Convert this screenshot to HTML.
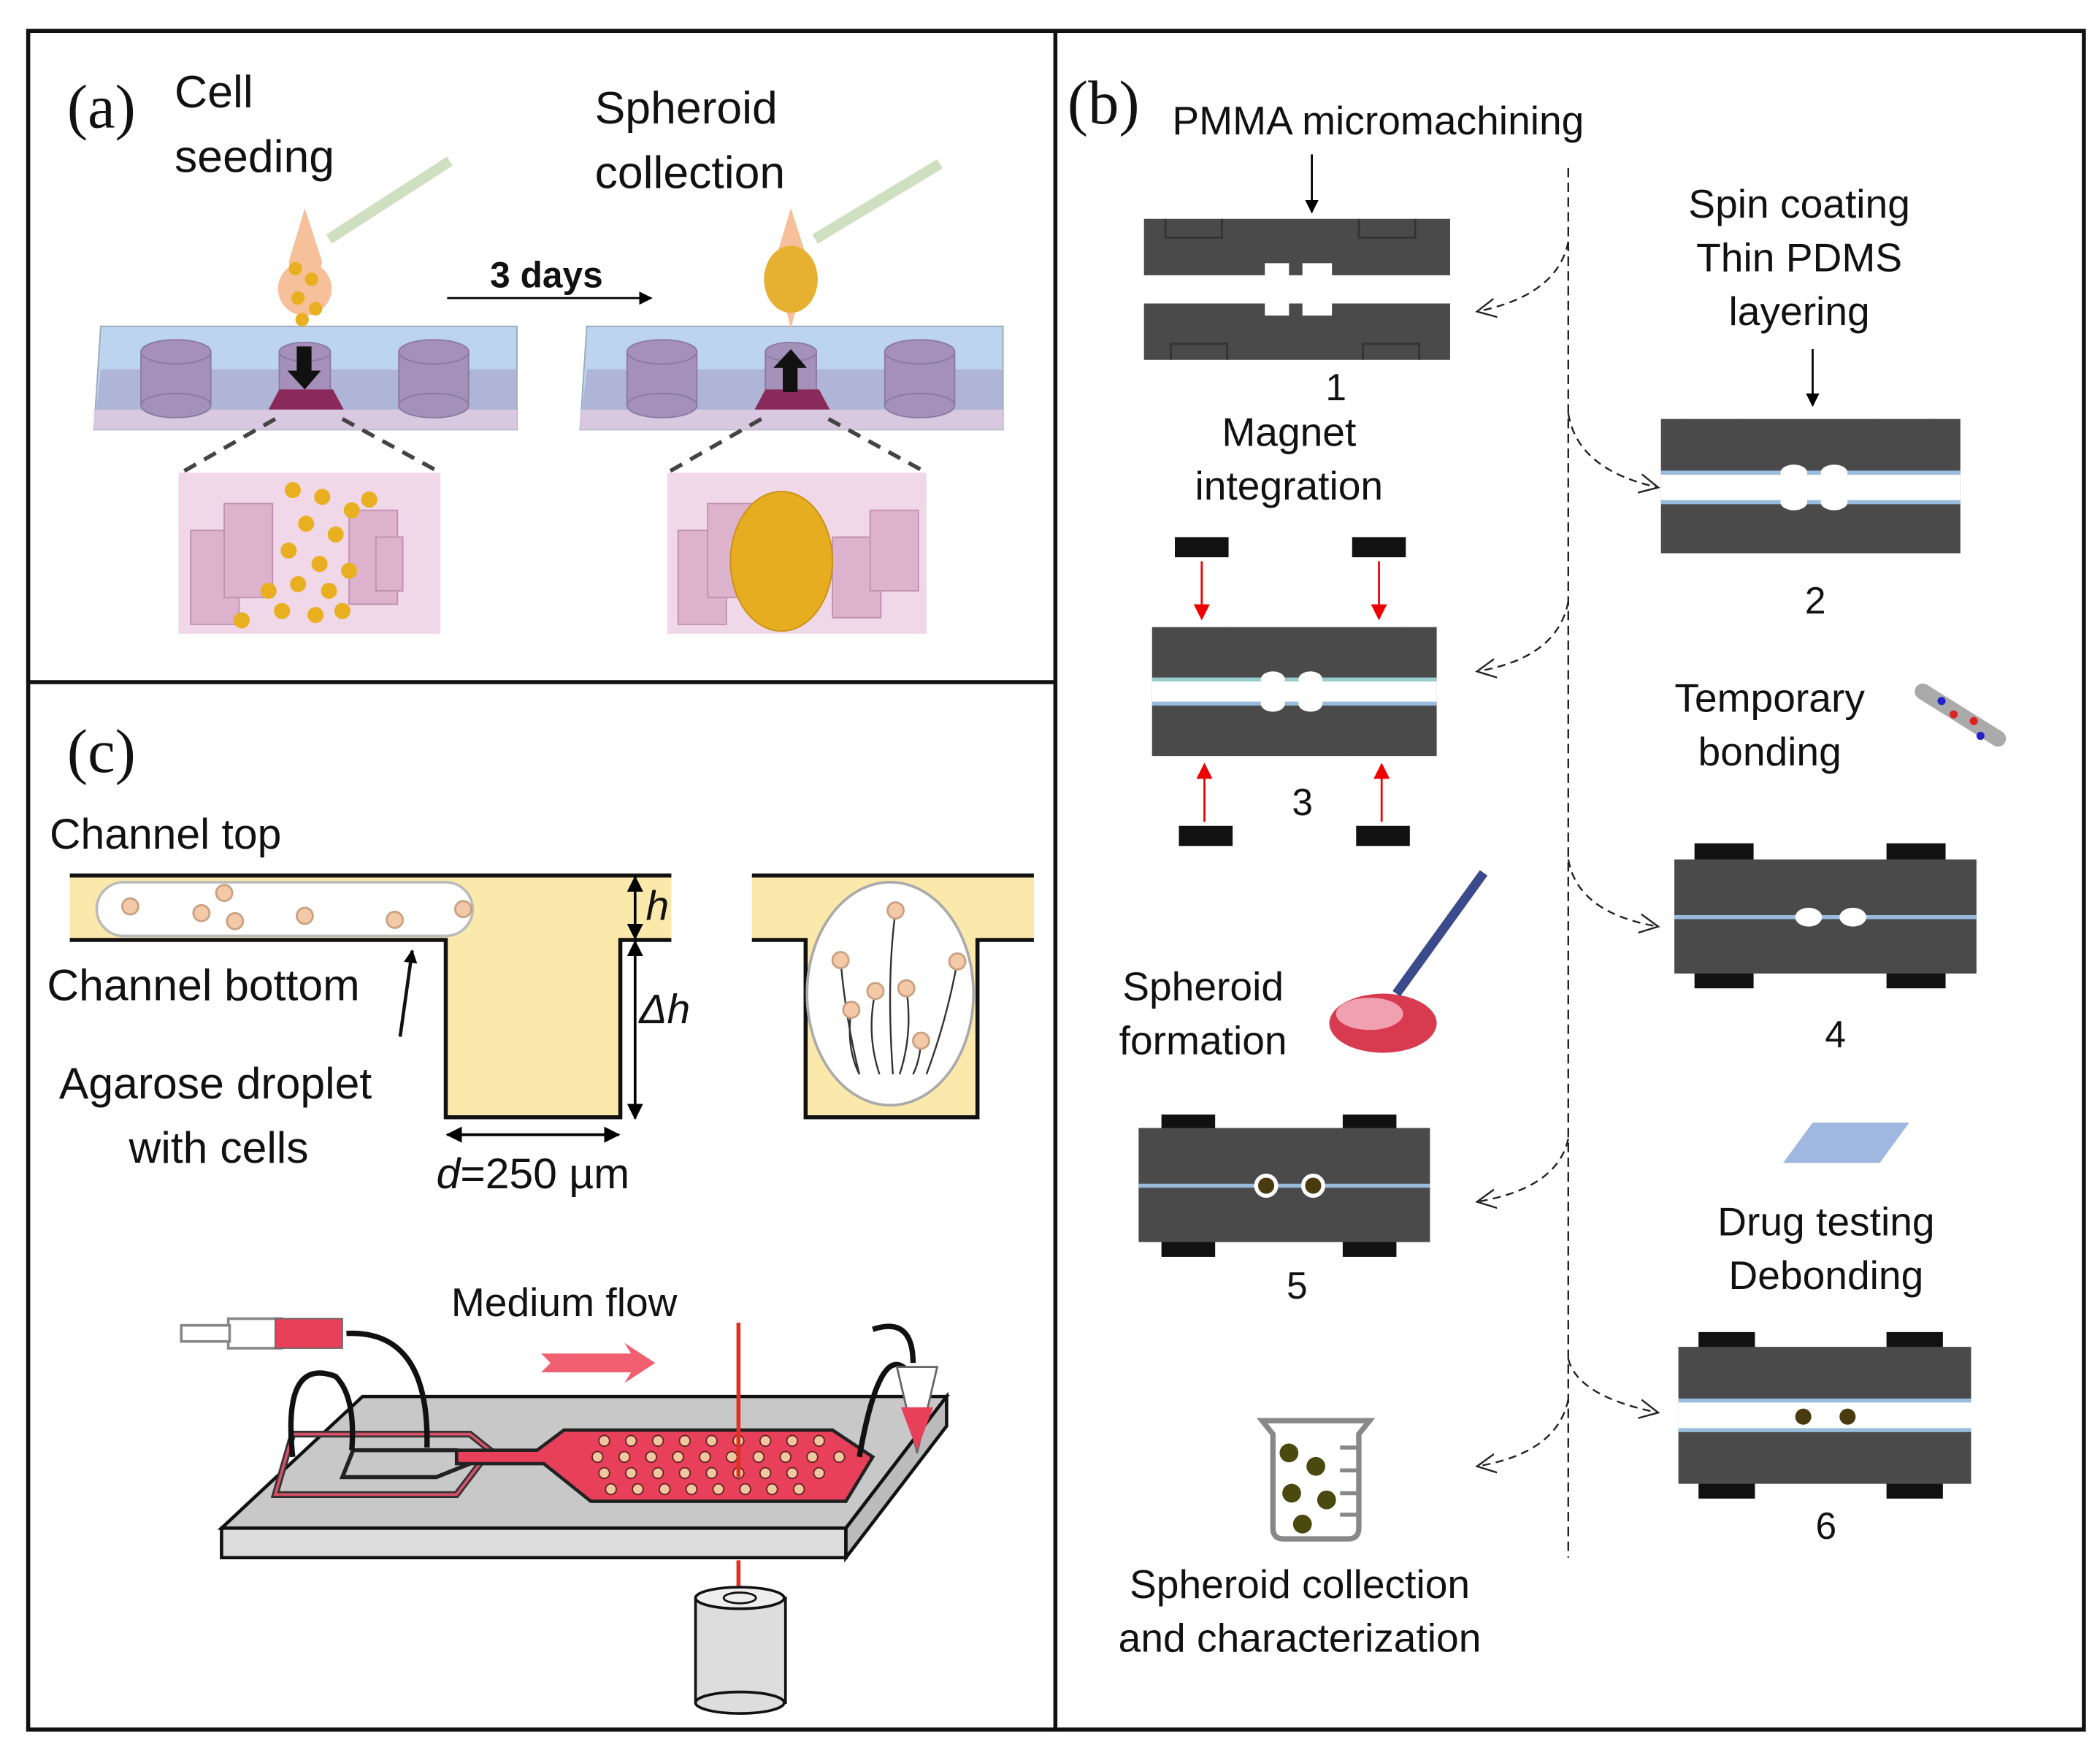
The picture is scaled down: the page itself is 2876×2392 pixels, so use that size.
<!DOCTYPE html>
<html><head><meta charset="utf-8"><style>
html,body{margin:0;padding:0;background:#fff}
svg{display:block}
text{font-family:"Liberation Sans",sans-serif;fill:#111}
.s{font-family:"Liberation Serif",serif}
</style></head><body>
<svg width="2876" height="2392" viewBox="0 0 1564 1301" preserveAspectRatio="none" xmlns="http://www.w3.org/2000/svg">
<defs>
<marker id="ah" markerWidth="10" markerHeight="10" refX="9" refY="5" orient="auto" markerUnits="userSpaceOnUse"><path d="M0,0 L10,5 L0,10 z" fill="#000"/></marker>
<marker id="ahr" markerWidth="12" markerHeight="12" refX="10" refY="6" orient="auto" markerUnits="userSpaceOnUse"><path d="M0,0 L12,6 L0,12 z" fill="#e00"/></marker>
<marker id="oa" markerWidth="16" markerHeight="16" refX="14" refY="8" orient="auto" markerUnits="userSpaceOnUse"><path d="M0,1 L14,8 L0,15" fill="none" stroke="#222" stroke-width="1.3"/></marker>
<marker id="dh" markerWidth="12" markerHeight="12" refX="11" refY="6" orient="auto-start-reverse" markerUnits="userSpaceOnUse"><path d="M0,0 L12,6 L0,12 z" fill="#000"/></marker>
</defs>
<rect width="1564" height="1301" fill="#fff"/>
<rect x="21" y="23" width="1531" height="1265" fill="none" stroke="#111" stroke-width="3"/>
<line x1="786" y1="23" x2="786" y2="1288" stroke="#111" stroke-width="3"/>
<line x1="21" y1="508" x2="786" y2="508" stroke="#111" stroke-width="3"/>

<!-- (a) -->
<text x="50" y="95" class="s" font-size="46">(a)</text>
<text x="130" y="80" font-size="34">Cell</text>
<text x="130" y="128" font-size="34">seeding</text>
<text x="443" y="92" font-size="34">Spheroid</text>
<text x="443" y="140" font-size="34">collection</text>
<text x="365" y="214" font-size="27" font-weight="bold">3 days</text>
<line x1="333" y1="222" x2="485" y2="222" stroke="#000" stroke-width="1.5" marker-end="url(#ah)"/>
<g id="chipA">
<polygon points="75,243 385,243 385,320 70,320" fill="#bcd4ee" stroke="#9ab" stroke-width="1"/>
<polygon points="75,275 385,275 385,320 70,320" fill="#a9a8cc" opacity=".7"/>
<rect x="70" y="305" width="315" height="15" fill="#d8c8e0"/>
<g fill="#a490b8" stroke="#8a7aa0" stroke-width="1">
<rect x="105" y="262" width="52" height="40"/><ellipse cx="131" cy="262" rx="26" ry="9"/><ellipse cx="131" cy="302" rx="26" ry="9"/>
<rect x="297" y="262" width="52" height="40"/><ellipse cx="323" cy="262" rx="26" ry="9"/><ellipse cx="323" cy="302" rx="26" ry="9"/>
<rect x="208" y="262" width="38" height="40"/><ellipse cx="227" cy="262" rx="19" ry="7"/>
</g>
<polygon points="208,290 248,290 256,305 200,305" fill="#8a2a5a"/>
</g>
<polygon points="227,155 215,195 227,245 240,195" fill="#f6c09a"/>
<circle cx="227" cy="215" r="20" fill="#f6c09a"/>
<g fill="#e8b020"><circle cx="220" cy="200" r="5"/><circle cx="232" cy="208" r="5"/><circle cx="222" cy="222" r="5"/><circle cx="235" cy="230" r="5"/><circle cx="225" cy="238" r="5"/></g>
<line x1="245" y1="178" x2="335" y2="120" stroke="#cfe0c0" stroke-width="8"/>
<rect x="221" y="258" width="11" height="20" fill="#111"/><polygon points="214,276 239,276 227,290" fill="#111"/>
<use href="#chipA" x="362"/>
<polygon points="589,155 577,195 589,245 602,195" fill="#f6c09a"/>
<ellipse cx="589" cy="208" rx="20" ry="25" fill="#e6b030"/>
<line x1="607" y1="178" x2="700" y2="122" stroke="#cfe0c0" stroke-width="8"/>
<rect x="583" y="272" width="11" height="20" fill="#111"/><polygon points="576,274 601,274 589,260" fill="#111"/>
<g stroke="#444" stroke-width="3" stroke-dasharray="10,7" fill="none">
<line x1="205" y1="312" x2="135" y2="352"/><line x1="255" y1="312" x2="328" y2="352"/>
<line x1="567" y1="312" x2="497" y2="352"/><line x1="617" y1="312" x2="690" y2="352"/>
</g>
<rect x="133" y="352" width="195" height="120" fill="#f0d8e8"/>
<rect x="497" y="352" width="193" height="120" fill="#f0d8e8"/>
<g fill="#dcb2cc" stroke="#c090b0" stroke-width="1">
<rect x="142" y="395" width="36" height="70"/><rect x="167" y="375" width="36" height="70"/><rect x="260" y="380" width="36" height="70"/><rect x="280" y="400" width="20" height="40"/>
<rect x="505" y="395" width="36" height="70"/><rect x="527" y="375" width="36" height="70"/><rect x="620" y="400" width="36" height="60"/><rect x="648" y="380" width="36" height="60"/>
</g>
<g fill="#e8b020">
<circle cx="218" cy="365" r="6"/><circle cx="240" cy="370" r="6"/><circle cx="262" cy="380" r="6"/><circle cx="228" cy="390" r="6"/><circle cx="250" cy="398" r="6"/><circle cx="215" cy="410" r="6"/><circle cx="238" cy="420" r="6"/><circle cx="222" cy="435" r="6"/><circle cx="245" cy="440" r="6"/><circle cx="200" cy="440" r="6"/><circle cx="210" cy="455" r="6"/><circle cx="235" cy="458" r="6"/><circle cx="255" cy="455" r="6"/><circle cx="180" cy="462" r="6"/><circle cx="260" cy="425" r="6"/><circle cx="275" cy="372" r="6"/>
</g>
<ellipse cx="582" cy="418" rx="38" ry="52" fill="#e6ad20" stroke="#c99010"/>

<!-- (b) -->
<text x="795" y="92" class="s" font-size="46">(b)</text>
<text x="873" y="100" font-size="30">PMMA micromachining</text>
<line x1="1168" y1="125" x2="1168" y2="1160" stroke="#222" stroke-width="1.3" stroke-dasharray="7,4"/>
<line x1="977" y1="115" x2="977" y2="158" stroke="#000" stroke-width="1.5" marker-end="url(#ah)"/>
<g fill="#4a4a4a">
<rect x="852" y="163" width="228" height="42"/><rect x="852" y="226" width="228" height="42"/>
</g>
<g fill="#fff"><rect x="942" y="196" width="18" height="10"/><rect x="970" y="196" width="22" height="10"/><rect x="942" y="225" width="18" height="10"/><rect x="970" y="225" width="22" height="10"/></g>
<g fill="none" stroke="#333" stroke-width="1.5">
<path d="M868,163 v14 h42 v-14 M1012,163 v14 h42 v-14 M872,268 v-12 h42 v12 M1015,268 v-12 h42 v12"/>
<path d="M872,467 v14 h42 v-14 M1005,467 v14 h42 v-14 M872,563 v-12 h42 v12 M1005,563 v-12 h42 v12"/>
<path d="M1255,312 v14 h42 v-14 M1395,312 v14 h42 v-14 M1255,412 v-12 h42 v12 M1395,412 v-12 h42 v12"/>
</g>
<text x="995" y="298" font-size="28" text-anchor="middle">1</text>
<text x="960" y="332" font-size="30" text-anchor="middle">Magnet</text>
<text x="960" y="372" font-size="30" text-anchor="middle">integration</text>
<rect x="858" y="467" width="212" height="96" fill="#4a4a4a"/>
<rect x="858" y="506" width="212" height="18" fill="#fff"/>
<line x1="858" y1="506" x2="1070" y2="506" stroke="#9cc" stroke-width="3"/><line x1="858" y1="524" x2="1070" y2="524" stroke="#9bd" stroke-width="3"/>
<g fill="#fff"><ellipse cx="948" cy="506" rx="9" ry="6"/><ellipse cx="976" cy="506" rx="9" ry="6"/><ellipse cx="948" cy="524" rx="9" ry="6"/><ellipse cx="976" cy="524" rx="9" ry="6"/></g>
<g fill="#111"><rect x="875" y="400" width="40" height="15"/><rect x="1007" y="400" width="40" height="15"/><rect x="878" y="615" width="40" height="15"/><rect x="1010" y="615" width="40" height="15"/></g>
<g stroke="#e00" stroke-width="1.5"><line x1="895" y1="418" x2="895" y2="460" marker-end="url(#ahr)"/><line x1="1027" y1="418" x2="1027" y2="460" marker-end="url(#ahr)"/><line x1="897" y1="612" x2="897" y2="570" marker-end="url(#ahr)"/><line x1="1029" y1="612" x2="1029" y2="570" marker-end="url(#ahr)"/></g>
<text x="970" y="607" font-size="28" text-anchor="middle">3</text>

<text x="1340" y="162" font-size="30" text-anchor="middle">Spin coating</text>
<text x="1340" y="202" font-size="30" text-anchor="middle">Thin PDMS</text>
<text x="1340" y="242" font-size="30" text-anchor="middle">layering</text>
<line x1="1350" y1="260" x2="1350" y2="302" stroke="#000" stroke-width="1.5" marker-end="url(#ah)"/>
<rect x="1237" y="312" width="223" height="100" fill="#4a4a4a"/>
<rect x="1237" y="352" width="223" height="22" fill="#fff"/>
<line x1="1237" y1="352" x2="1460" y2="352" stroke="#9bd" stroke-width="3"/><line x1="1237" y1="374" x2="1460" y2="374" stroke="#9bd" stroke-width="3"/>
<g fill="#fff"><ellipse cx="1336" cy="352" rx="10" ry="6"/><ellipse cx="1366" cy="352" rx="10" ry="6"/><ellipse cx="1336" cy="374" rx="10" ry="6"/><ellipse cx="1366" cy="374" rx="10" ry="6"/></g>
<text x="1352" y="457" font-size="28" text-anchor="middle">2</text>
<text x="1318" y="530" font-size="30" text-anchor="middle">Temporary</text>
<text x="1318" y="570" font-size="30" text-anchor="middle">bonding</text>
<line x1="1432" y1="515" x2="1488" y2="550" stroke="#aaa" stroke-width="12" stroke-linecap="round"/>
<circle cx="1446" cy="522" r="3" fill="#22c"/><circle cx="1455" cy="532" r="3" fill="#d22"/><circle cx="1470" cy="537" r="3" fill="#d22"/><circle cx="1475" cy="548" r="3" fill="#22c"/>
<g fill="#111"><rect x="1262" y="628" width="44" height="14"/><rect x="1405" y="628" width="44" height="14"/><rect x="1262" y="722" width="44" height="14"/><rect x="1405" y="722" width="44" height="14"/></g>
<rect x="1247" y="640" width="225" height="85" fill="#4a4a4a"/>
<line x1="1247" y1="683" x2="1472" y2="683" stroke="#9bd" stroke-width="3"/>
<ellipse cx="1347" cy="683" rx="10" ry="7" fill="#fff"/><ellipse cx="1380" cy="683" rx="10" ry="7" fill="#fff"/>
<text x="1367" y="780" font-size="28" text-anchor="middle">4</text>

<text x="896" y="745" font-size="30" text-anchor="middle">Spheroid</text>
<text x="896" y="785" font-size="30" text-anchor="middle">formation</text>
<ellipse cx="1030" cy="762" rx="40" ry="22" fill="#d83a50"/><ellipse cx="1020" cy="755" rx="25" ry="12" fill="#f0a0b0"/>
<line x1="1040" y1="740" x2="1105" y2="650" stroke="#3a4a8a" stroke-width="7"/>
<g fill="#111"><rect x="865" y="830" width="40" height="12"/><rect x="1000" y="830" width="40" height="12"/><rect x="865" y="924" width="40" height="12"/><rect x="1000" y="924" width="40" height="12"/></g>
<rect x="848" y="840" width="217" height="85" fill="#4a4a4a"/>
<line x1="848" y1="883" x2="1065" y2="883" stroke="#9bd" stroke-width="3"/>
<circle cx="943" cy="883" r="9" fill="#fff"/><circle cx="943" cy="883" r="6" fill="#4a3a10"/><circle cx="978" cy="883" r="9" fill="#fff"/><circle cx="978" cy="883" r="6" fill="#4a3a10"/>
<text x="966" y="967" font-size="28" text-anchor="middle">5</text>
<polygon points="1350,836 1422,836 1400,866 1328,866" fill="#a0b8e0"/>
<text x="1360" y="920" font-size="30" text-anchor="middle">Drug testing</text>
<text x="1360" y="960" font-size="30" text-anchor="middle">Debonding</text>
<g fill="#111"><rect x="1265" y="992" width="42" height="14"/><rect x="1405" y="992" width="42" height="14"/><rect x="1265" y="1102" width="42" height="14"/><rect x="1405" y="1102" width="42" height="14"/></g>
<rect x="1250" y="1003" width="218" height="102" fill="#4a4a4a"/>
<rect x="1250" y="1043" width="218" height="22" fill="#fff"/>
<line x1="1250" y1="1043" x2="1468" y2="1043" stroke="#9bd" stroke-width="3"/><line x1="1250" y1="1065" x2="1468" y2="1065" stroke="#9bd" stroke-width="3"/>
<circle cx="1343" cy="1055" r="6" fill="#4a3a10"/><circle cx="1376" cy="1055" r="6" fill="#4a3a10"/>
<text x="1360" y="1146" font-size="28" text-anchor="middle">6</text>
<path d="M940,1058 L1020,1058 L1012,1068 L1012,1138 Q1012,1146 1004,1146 L956,1146 Q948,1146 948,1138 L948,1068 Z" fill="#fff" stroke="#888" stroke-width="4"/>
<g fill="#4a4a10"><circle cx="960" cy="1082" r="7"/><circle cx="980" cy="1092" r="7"/><circle cx="962" cy="1112" r="7"/><circle cx="988" cy="1117" r="7"/><circle cx="970" cy="1135" r="7"/></g>
<g stroke="#888" stroke-width="3"><line x1="998" y1="1078" x2="1012" y2="1078"/><line x1="998" y1="1095" x2="1012" y2="1095"/><line x1="998" y1="1112" x2="1012" y2="1112"/><line x1="998" y1="1128" x2="1012" y2="1128"/></g>
<text x="968" y="1190" font-size="30" text-anchor="middle">Spheroid collection</text>
<text x="968" y="1230" font-size="30" text-anchor="middle">and characterization</text>
<g fill="none" stroke="#222" stroke-width="1.3" stroke-dasharray="6,4">
<path d="M1168,180 Q1160,220 1100,232" marker-end="url(#oa)"/>
<path d="M1168,308 Q1175,350 1235,363" marker-end="url(#oa)"/>
<path d="M1168,448 Q1160,490 1100,500" marker-end="url(#oa)"/>
<path d="M1168,640 Q1175,680 1235,690" marker-end="url(#oa)"/>
<path d="M1168,848 Q1160,885 1100,895" marker-end="url(#oa)"/>
<path d="M1168,1012 Q1175,1040 1235,1052" marker-end="url(#oa)"/>
<path d="M1168,1042 Q1160,1082 1100,1092" marker-end="url(#oa)"/>
</g>

<!-- (c) -->
<text x="50" y="575" class="s" font-size="46">(c)</text>
<text x="37" y="632" font-size="32">Channel top</text>
<path d="M52,652 L500,652 L500,700 L462,700 L462,832 L332,832 L332,700 L52,700 Z" fill="#fbe8ab"/>
<path d="M52,652 L500,652 M52,700 L332,700 L332,832 L462,832 L462,700 L500,700" fill="none" stroke="#111" stroke-width="3"/>
<rect x="72" y="657" width="280" height="40" rx="20" fill="#fff" stroke="#bbb" stroke-width="2"/>
<g fill="#f3c9a8" stroke="#c9a080" stroke-width="1.5"><circle cx="97" cy="675" r="6"/><circle cx="150" cy="680" r="6"/><circle cx="167" cy="665" r="6"/><circle cx="175" cy="686" r="6"/><circle cx="227" cy="682" r="6"/><circle cx="294" cy="685" r="6"/><circle cx="345" cy="677" r="6"/></g>
<line x1="473" y1="653" x2="473" y2="699" stroke="#000" stroke-width="2" marker-start="url(#dh)" marker-end="url(#dh)"/>
<line x1="473" y1="701" x2="473" y2="833" stroke="#000" stroke-width="2" marker-start="url(#dh)" marker-end="url(#dh)"/>
<line x1="333" y1="845" x2="461" y2="845" stroke="#000" stroke-width="2" marker-start="url(#dh)" marker-end="url(#dh)"/>
<text x="481" y="685" font-size="31" font-style="italic">h</text>
<text x="476" y="762" font-size="31" font-style="italic">Δh</text>
<text x="325" y="885" font-size="32"><tspan font-style="italic">d</tspan>=250 µm</text>
<text x="35" y="745" font-size="33">Channel bottom</text>
<line x1="298" y1="772" x2="307" y2="708" stroke="#111" stroke-width="2.5" marker-end="url(#ah)"/>
<text x="44" y="818" font-size="33">Agarose droplet</text>
<text x="96" y="866" font-size="33">with cells</text>
<path d="M560,652 L770,652 L770,700 L728,700 L728,832 L600,832 L600,700 L560,700 Z" fill="#fbe8ab"/>
<path d="M560,652 L770,652 M560,700 L600,700 L600,832 L728,832 L728,700 L770,700" fill="none" stroke="#111" stroke-width="3"/>
<ellipse cx="663" cy="740" rx="62" ry="83" fill="#fff" stroke="#aaa" stroke-width="2"/>
<g fill="none" stroke="#333" stroke-width="1.3"><path d="M667,678 Q660,730 665,800"/><path d="M626,715 Q630,760 640,800"/><path d="M713,716 Q705,760 690,800"/><path d="M652,738 Q645,770 655,800"/><path d="M675,736 Q680,770 670,800"/><path d="M634,752 Q630,780 640,800"/><path d="M686,775 Q685,790 680,800"/></g>
<g fill="#f3c9a8" stroke="#c9a080" stroke-width="1.5"><circle cx="667" cy="678" r="6"/><circle cx="626" cy="715" r="6"/><circle cx="713" cy="716" r="6"/><circle cx="652" cy="738" r="6"/><circle cx="675" cy="736" r="6"/><circle cx="634" cy="752" r="6"/><circle cx="686" cy="775" r="6"/></g>

<text x="336" y="980" font-size="30">Medium flow</text>
<polygon points="403,1008 470,1008 465,1000 488,1015 465,1030 470,1022 403,1022 410,1015" fill="#f06070"/>
<polygon points="270,1040 705,1040 630,1138 165,1138" fill="#c8c8c8" stroke="#111" stroke-width="2.5"/>
<polygon points="165,1138 630,1138 630,1160 165,1160" fill="#ddd" stroke="#111" stroke-width="2.5"/>
<polygon points="630,1138 705,1040 705,1062 630,1160" fill="#bbb" stroke="#111" stroke-width="2.5"/>
<polygon points="218,1068 350,1068 365,1080 340,1113 205,1113" fill="none" stroke="#333" stroke-width="5"/>
<polygon points="218,1068 350,1068 365,1080 340,1113 205,1113" fill="none" stroke="#d8506a" stroke-width="2"/>
<polygon points="263,1080 340,1080 350,1090 325,1100 255,1100" fill="none" stroke="#222" stroke-width="3"/>
<polygon points="340,1080 400,1080 420,1065 620,1065 650,1085 630,1118 440,1118 405,1090 340,1090" fill="#e8405a" stroke="#222" stroke-width="2.5"/>
<g fill="#f0c8a0" stroke="#6a2020" stroke-width="1">
<circle cx="450" cy="1073" r="4"/><circle cx="470" cy="1073" r="4"/><circle cx="490" cy="1073" r="4"/><circle cx="510" cy="1073" r="4"/><circle cx="530" cy="1073" r="4"/><circle cx="550" cy="1073" r="4"/><circle cx="570" cy="1073" r="4"/><circle cx="590" cy="1073" r="4"/><circle cx="610" cy="1073" r="4"/>
<circle cx="445" cy="1085" r="4"/><circle cx="465" cy="1085" r="4"/><circle cx="485" cy="1085" r="4"/><circle cx="505" cy="1085" r="4"/><circle cx="525" cy="1085" r="4"/><circle cx="545" cy="1085" r="4"/><circle cx="565" cy="1085" r="4"/><circle cx="585" cy="1085" r="4"/><circle cx="605" cy="1085" r="4"/><circle cx="625" cy="1085" r="4"/>
<circle cx="450" cy="1097" r="4"/><circle cx="470" cy="1097" r="4"/><circle cx="490" cy="1097" r="4"/><circle cx="510" cy="1097" r="4"/><circle cx="530" cy="1097" r="4"/><circle cx="550" cy="1097" r="4"/><circle cx="570" cy="1097" r="4"/><circle cx="590" cy="1097" r="4"/><circle cx="610" cy="1097" r="4"/>
<circle cx="455" cy="1109" r="4"/><circle cx="475" cy="1109" r="4"/><circle cx="495" cy="1109" r="4"/><circle cx="515" cy="1109" r="4"/><circle cx="535" cy="1109" r="4"/><circle cx="555" cy="1109" r="4"/><circle cx="575" cy="1109" r="4"/><circle cx="595" cy="1109" r="4"/>
</g>
<g fill="none" stroke="#111" stroke-width="4"><path d="M218,1085 Q210,1010 250,1025 Q265,1040 262,1080"/><path d="M258,993 Q320,990 318,1078"/><path d="M640,1085 Q655,1000 675,1020"/><path d="M650,990 Q680,980 680,1015"/></g>
<rect x="170" y="982" width="40" height="22" fill="#fff" stroke="#888" stroke-width="2"/>
<rect x="135" y="987" width="36" height="12" fill="#fff" stroke="#888" stroke-width="2"/>
<rect x="205" y="982" width="50" height="22" fill="#e8405a" stroke="#666"/>
<polygon points="668,1018 698,1018 683,1082" fill="#fff" stroke="#666" stroke-width="1.5"/>
<polygon points="671,1048 695,1048 683,1080" fill="#e8405a"/>
<line x1="550" y1="985" x2="550" y2="1100" stroke="#e03020" stroke-width="3"/>
<line x1="550" y1="1162" x2="550" y2="1192" stroke="#e03020" stroke-width="3"/>
<rect x="518" y="1190" width="67" height="78" fill="#ddd" stroke="#111" stroke-width="2"/>
<ellipse cx="551" cy="1268" rx="33" ry="8" fill="#ddd" stroke="#111" stroke-width="2"/>
<ellipse cx="551" cy="1190" rx="33" ry="8" fill="#eee" stroke="#111" stroke-width="2"/>
<ellipse cx="551" cy="1190" rx="12" ry="4" fill="none" stroke="#111" stroke-width="1.5"/>
</svg>
</body></html>
